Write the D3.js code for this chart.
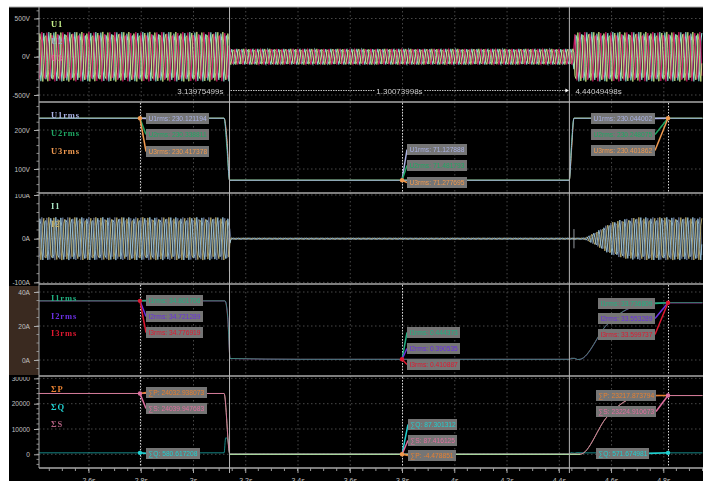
<!DOCTYPE html>
<html><head><meta charset="utf-8">
<script src="https://cdnjs.cloudflare.com/ajax/libs/d3/7.8.5/d3.min.js"></script>
<style>
html,body{margin:0;padding:0;background:#fff;overflow:hidden}
svg{display:block;filter:blur(0.4px)}
text{font-family:"Liberation Sans",Arial,sans-serif}
</style></head><body><svg id="c" width="703" height="481"></svg>
<script>
// ---------- DATA ----------
const timeTicks = [2.6,2.8,3,3.2,3.4,3.6,3.8,4,4.2,4.4,4.6,4.8];
const timeTickLabels = ["2.6s","2.8s","3s","3.2s","3.4s","3.6s","3.8s","4s","4.2s","4.4s","4.6s","4.8s"];
const uTicks = [500,0,-500], uTickLabels = ["500V","0V","-500V"];
const urmsTicks = [200,100], urmsTickLabels = ["200V","100V"];
const iTicks = [100,0,-100], iTickLabels = ["100A","0A","-100A"];
const irmsTicks = [40,20,0], irmsTickLabels = ["40A","20A","0A"];
const pTicks = [30000,20000,10000,0], pTickLabels = ["30000","20000","10000","0"];
const cursorTimes = [2.797,3.8,4.818];
const markerTimes = [3.13975499,4.44049498];
const markerTexts = ["3.13975499s","1.30073998s","4.44049498s"];

const waveSamples = [0,.933,.671,-.451,-.995,-.264,.805,.843,-.199,-.986,-.51,.62,.955,.067,-.907,-.719,.39,.999,.328,-.764,-.877,.133,.973,.566,-.566,-.973,-.133,.877,.764,-.328,-.999,-.39,.719,.907,-.067,-.955,-.62,.51,.986,.199,-.843,-.805,.264,.995,.451,-.671,-.933];
const voltEnvTimes = [2.41,3.1395,3.1405,4.457,4.459,4.95];
const voltEnvPeak  = [325,325,104,104,325,325];
const currEnvTimes = [2.41,3.136,3.145,4.485,4.5,4.546,4.596,4.646,4.70,4.95];
const currEnvPeak  = [49,49,1.6,1.6,2,16.7,36,45,49,49];
const currSpikeTimes = [3.1395,3.1395,4.458,4.458];
const currSpikeVals  = [30,-75,22,-22];

const urmsTimes = [2.41,3.119,3.13,3.14,4.44,4.449,4.458,4.95];
const u1rms = [230.12,230.12,165,71.13,71.13,160,230.04,230.04];
const u2rms = [230.34,230.34,150,71.48,71.48,170,230.25,230.25];
const u3rms = [230.42,230.42,178,71.28,71.28,150,230.40,230.40];

const irmsTimes = [2.41,3.1225,3.133,3.142,3.41,4.443,4.447,4.46,4.472,4.482,4.585,4.684,4.787,4.95];
const i1rms = [34.80,34.80,25,.9,.44,.44,1.0,1.0,.3,.44,21,31.3,33.74,33.74];
const i2rms = [34.72,34.72,26,.8,.39,.39,.9,.9,.3,.39,20.8,31.1,33.55,33.55];
const i3rms = [34.78,34.78,24,.9,.41,.41,1.0,1.0,.2,.41,20.9,31.2,33.60,33.60];

const pTimes = [2.41,3.119,3.141,4.44,4.482,4.585,4.684,4.787,4.95];
const sumP = [24033,24033,-4,-4,-4,14800,22200,23217,23217];
const sumS = [24040,24040,87,87,87,14810,22210,23225,23225];
const qTimes = [2.41,3.119,3.125,3.133,3.141,4.44,4.447,4.46,4.47,4.5,4.95];
const sumQ = [581,581,6500,6000,87,87,650,430,650,572,572];

const uLabels = [["U1rms: 230.121194","U2rms: 230.338811","U3rms: 230.417378"],["U1rms: 71.127888","U2rms: 71.481793","U3rms: 71.277695"],["U1rms: 230.044002","U2rms: 230.248075","U3rms: 230.401862"]];
const iLabels = [["I1rms: 34.801706","I2rms: 34.721289","I3rms: 34.776919"],["I1rms: 0.444373","I2rms: 0.390535","I3rms: 0.410887"],["I1rms: 33.736809","I2rms: 33.553289","I3rms: 33.599737"]];
const pLabels = [["∑P: 24032.938073","∑S: 24039.947683","∑Q: 580.617208"],["∑Q: 87.301312","∑S: 87.416125","∑P: -4.478851"],["∑P: 23217.873794","∑S: 23224.910673","∑Q: 571.674981"]];

// ---------- STYLE / LAYOUT ----------
const C = {u1:"#d2f08a",u2:"#86d8d0",u3:"#d81c6c",i1:"#6c7c9c",i2:"#c8b874",i3:"#a0cce6",
  U1:"#aab2e4",U2:"#1fa864",U3:"#f09a50",I1:"#20b080",I2:"#6a30e0",I3:"#e01830",P:"#e88030",Q:"#20d0d0",S:"#e070a0"};
const svg = d3.select("#c");
svg.append("rect").attr("x",9).attr("y",7).attr("width",694).attr("height",474).attr("fill","#000");
svg.append("rect").attr("x",9).attr("y",286).attr("width",30).attr("height",89).attr("fill","#3a2a20");

const x = d3.scaleLinear().domain([3,4.4]).range([193,558.8]);
const panels = [
 {top:7,bot:102,y:d3.scaleLinear().domain([500,-500]).range([18.5,95]),ticks:uTicks,labels:uTickLabels,minor:100},
 {top:102,bot:193,y:d3.scaleLinear().domain([200,100]).range([130,169]),ticks:urmsTicks,labels:urmsTickLabels,minor:20},
 {top:193,bot:284,y:d3.scaleLinear().domain([100,-100]).range([195,282.4]),ticks:iTicks,labels:iTickLabels,minor:20},
 {top:284,bot:376,y:d3.scaleLinear().domain([40,0]).range([292,360]),ticks:irmsTicks,labels:irmsTickLabels,minor:5},
 {top:376,bot:468,y:d3.scaleLinear().domain([20000,0]).range([403.7,454.3]),ticks:pTicks,labels:pTickLabels,minor:2000}
];
const XL=39,XR=703,GRID="#484848",AX="#a8a8a8",TXT="#c0c0c0";
const defs = svg.append("defs");
panels.forEach((p,k)=>{
  defs.append("clipPath").attr("id","pc"+k).append("rect").attr("x",XL).attr("y",p.top).attr("width",XR-XL).attr("height",p.bot-p.top);
  defs.append("clipPath").attr("id","lc"+k).append("rect").attr("x",9).attr("y",p.top+1).attr("width",XR-9).attr("height",p.bot-p.top);
  const g = svg.append("g");
  const gl = g.append("g").attr("clip-path",`url(#pc${k})`);
  gl.selectAll("line.v").data(timeTicks).join("line").attr("x1",d=>x(d)+.5).attr("x2",d=>x(d)+.5).attr("y1",p.top).attr("y2",p.bot).attr("stroke",GRID).attr("stroke-dasharray","1.5,2.5");
  gl.selectAll("line.h").data(p.ticks).join("line").attr("x1",XL).attr("x2",XR).attr("y1",d=>p.y(d)).attr("y2",d=>p.y(d)).attr("stroke",GRID).attr("stroke-dasharray","1.5,2.5");
  const [lo,hi]=[p.y.invert(p.bot),p.y.invert(p.top)];
  const minorVals=d3.range(Math.ceil(lo/p.minor)*p.minor,hi,p.minor);
  const ax=g.append("g").attr("clip-path",`url(#lc${k})`);
  ax.selectAll("line.m").data(minorVals).join("line").attr("x1",XL-2.5).attr("x2",XL).attr("y1",d=>p.y(d)).attr("y2",d=>p.y(d)).attr("stroke","#8c8c8c");
  ax.append("g").attr("transform",`translate(${XL},0)`)
    .call(d3.axisLeft(p.y).tickValues(p.ticks).tickSize(5).tickFormat((d,i)=>p.labels[i]))
    .call(s=>s.select(".domain").remove())
    .call(s=>s.selectAll("line").attr("stroke",AX))
    .call(s=>s.selectAll("text").attr("fill",TXT).attr("font-size",6.6).attr("font-family","Liberation Sans").attr("dx",-1));
});
function wave(times,peaks,shift){
  const env=d3.scaleLinear().domain(times).range(peaks).clamp(true);
  const step=x.invert(1)-x.invert(0), pts=[];
  for(let i=0,t=times[0];t<times[times.length-1];i++,t=times[0]+i*step)
    pts.push([t,env(t)*waveSamples[(i+shift)%waveSamples.length]]);
  return pts;
}
function addWave(k,pts,color,w,op){
  svg.append("path").attr("clip-path",`url(#pc${k})`)
    .attr("d",d3.line().x(d=>x(d[0])).y(d=>panels[k].y(d[1]))(pts))
    .attr("fill","none").attr("stroke",color).attr("stroke-width",w).attr("opacity",op);
}
addWave(0,wave(voltEnvTimes,voltEnvPeak,7),C.u2,1.1,1);
addWave(0,wave(voltEnvTimes,voltEnvPeak,14),C.u3,1.1,.95);
addWave(0,wave(voltEnvTimes,voltEnvPeak,0),C.u1,.9,.9);
addWave(2,wave(currEnvTimes,currEnvPeak,14),C.i1,1,.8);
addWave(2,wave(currEnvTimes,currEnvPeak,7),C.i2,.9,.9);
addWave(2,wave(currEnvTimes,currEnvPeak,0),C.i3,.9,.95);
// current transients at the two marker instants
d3.pairs(currSpikeTimes.map((t,i)=>[t,currSpikeVals[i]])).filter((_,i)=>i%2==0).forEach(s=>{
  svg.append("line").attr("x1",x(s[0][0])).attr("x2",x(s[1][0])).attr("y1",panels[2].y(s[0][1])).attr("y2",panels[2].y(s[1][1])).attr("stroke","#b9c0c8").attr("stroke-width",.8);
});
function addLine(k,ts,vs,color,op,w){
  svg.append("path").attr("clip-path",`url(#pc${k})`)
    .attr("d",d3.line().curve(d3.curveMonotoneX).x((d,i)=>x(ts[i])).y(d=>panels[k].y(d))(vs))
    .attr("fill","none").attr("stroke",color).attr("stroke-width",w||1).attr("opacity",op||1);
}
addLine(1,urmsTimes,u3rms,C.U3);addLine(1,urmsTimes,u2rms,C.U2);addLine(1,urmsTimes,u1rms,C.U1,.9);
addLine(3,irmsTimes,i3rms,C.I3,.7);addLine(3,irmsTimes,i2rms,C.I2,.5);addLine(3,irmsTimes,i1rms,C.I1,.7);
addLine(4,qTimes,sumQ,C.Q,.65);addLine(4,pTimes,sumP,"#c0f0a0",.7);addLine(4,pTimes,sumS,C.S,.85);
addLine(4,pTimes.slice(2,5),sumP.slice(2,5),"#a8e8a0",1);

// axes frame
[7,102,193,284,376,468].forEach((yy,i)=>svg.append("line").attr("x1",i==0?9:XL).attr("x2",XR).attr("y1",yy).attr("y2",yy).attr("stroke",AX).attr("stroke-width",i==0?1:1.3));
svg.append("line").attr("x1",XL).attr("x2",XL).attr("y1",7).attr("y2",468).attr("stroke",AX).attr("stroke-width",1);
// time axis
const minorT=d3.range(2.45,4.96,0.05);
svg.selectAll("line.tm").data(minorT).join("line").attr("x1",d=>x(d)).attr("x2",d=>x(d)).attr("y1",468).attr("y2",471).attr("stroke","#9a9a9a");
svg.append("g").attr("transform","translate(0,468)")
  .call(d3.axisBottom(x).tickValues(timeTicks).tickSize(5).tickPadding(5).tickFormat((d,i)=>timeTickLabels[i]))
  .call(s=>s.select(".domain").remove())
  .call(s=>s.selectAll("line").attr("stroke",AX))
  .call(s=>s.selectAll("text").attr("fill",TXT).attr("font-size",7).attr("font-family","Liberation Sans"));
// marker verticals
markerTimes.forEach(t=>svg.append("line").attr("x1",x(t)).attr("x2",x(t)).attr("y1",7).attr("y2",473).attr("stroke","#b4b4b4").attr("stroke-width",1));
// interval text
const mY=90.5, m0=x(markerTimes[0]), m1=x(markerTimes[1]), mid=(m0+m1)/2;
[[m0+1,mid-25],[mid+25,m1-3]].forEach(s=>svg.append("line").attr("x1",s[0]).attr("x2",s[1]).attr("y1",mY).attr("y2",mY).attr("stroke","#c0c0c0").attr("stroke-dasharray","1.5,1"));
svg.append("path").attr("d",`M${m1-.5},${mY}l-3.5,-2v4z`).attr("fill","#fff");
[[m0-6,"end",0],[mid,"middle",1],[m1+6,"start",2]].forEach(a=>svg.append("text").attr("x",a[0]).attr("y",mY+3).attr("text-anchor",a[1]).attr("font-size",8).attr("fill","#d0d0d0").text(markerTexts[a[2]]));

// cursors
[1,3,4].forEach(k=>cursorTimes.forEach(t=>svg.append("line").attr("x1",x(t)+.5).attr("x2",x(t)+.5).attr("y1",panels[k].top+1).attr("y2",panels[k].bot-1).attr("stroke","#d8d8d8").attr("stroke-dasharray","1.5,1.5")));

// read-outs: value rows of a cursor, placed in pixel rows beside it
const rows = [
 {k:1,labels:uLabels,val:[[230.12],[71.2],[230.1]],colors:[C.U1,C.U2,C.U3],
  boxes:[[146,209,[113,129,146]],[407,467,[144,160,177]],[591,655,[113,129,145]]],mark:C.U3},
 {k:3,labels:iLabels,val:[[34.8],[.42],[33.7]],colors:[C.I1,C.I2,C.I3],
  boxes:[[146,203,[295,311,327]],[407,460,[327,343,359]],[598,655,[298,313,329]]],mark:C.I3},
];
function box(x0,x1,y0,label,color,fromX,fromY,side){
  svg.append("line").attr("x1",fromX).attr("y1",fromY).attr("x2",side>0?x0:x1).attr("y2",y0+5.5).attr("stroke",color).attr("stroke-width",1.5);
  svg.append("rect").attr("x",x0).attr("y",y0).attr("width",x1-x0).attr("height",11).attr("fill","#757575");
  svg.append("text").attr("x",x0+2.5).attr("y",y0+8).attr("font-size",6.7).attr("fill",color).text(label);
}
function dot(t,yy,color){svg.append("circle").attr("cx",x(t)).attr("cy",yy).attr("r",2.2).attr("fill",color);}
rows.forEach(r=>{
  cursorTimes.forEach((t,c)=>{
    const b=r.boxes[c], yy=panels[r.k].y(r.val[c][0]);
    r.labels[c].forEach((l,i)=>box(b[0],b[1],b[2][i],l,r.colors[i],x(t),yy,c==2?-1:1));
    dot(t,yy,r.mark);
  });
});
const yP=panels[4].y;
const pBoxes=[
 [[146,207,387,C.P,24033],[146,207,403,C.S,24033],[146,200,448,C.Q,581]],
 [[408,457,419,C.Q,0],[408,457,435,C.S,0],[408,456,450,C.P,0]],
 [[596,656,390,C.P,23217],[596,656,406,C.S,23217],[596,649,448,C.Q,572]]];
cursorTimes.forEach((t,c)=>{
  pBoxes[c].forEach((b,i)=>box(b[0],b[1],b[2],pLabels[c][i],b[3],x(t),yP(b[4]),c==2?-1:1));
  if(c==1) dot(t,yP(0),C.U3); else {dot(t,yP(pBoxes[c][0][4]),C.S);dot(t,yP(pBoxes[c][2][4]),C.Q);}
});

// channel names
const names=[["U1",27,"#c6f08a"],["U2",44,"#8fb0c0"],["U3",61,"#e06a9c"],
 ["U1rms",118,C.U1],["U2rms",136,C.U2],["U3rms",154,C.U3],
 ["I1",209,"#a8e4c4"],["I2",227,"#c0b070"],
 ["I1rms",301,C.I1],["I2rms",319,C.I2],["I3rms",336,C.I3],
 ["ΣP",392,C.P],["ΣQ",410,C.Q],["ΣS",427,"#b06080"]];
svg.selectAll("text.n").data(names).join("text").attr("x",51).attr("y",d=>d[1]).attr("fill",d=>d[2])
  .attr("font-size",8.5).attr("font-weight","bold").attr("letter-spacing",.9).style("font-family","'Liberation Serif',serif").text(d=>d[0]);
</script></body></html>
